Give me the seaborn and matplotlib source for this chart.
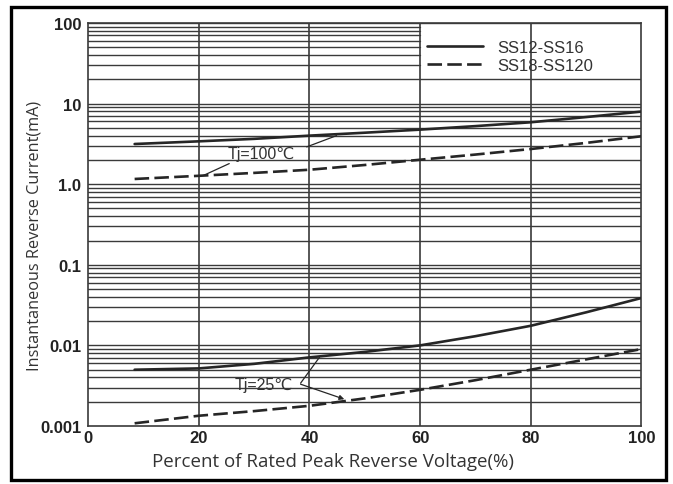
import numpy as np
import pandas as pd
import matplotlib
matplotlib.use("Agg")
import matplotlib.pyplot as plt
import matplotlib.patches as mpatches
import seaborn as sns

# Percent of rated peak reverse voltage (x) and reverse current in mA (y)
pct = [8.4, 20, 30, 40, 50, 60, 70, 80, 90, 100]

ss12_100c = [3.15, 3.4, 3.65, 4.0, 4.35, 4.75, 5.25, 5.86, 6.8, 7.95]
ss18_100c = [1.16, 1.27, 1.38, 1.51, 1.73, 2.01, 2.33, 2.73, 3.25, 3.93]
ss12_25c = [0.00499, 0.00518, 0.0059, 0.0071, 0.0083, 0.0100, 0.0130, 0.0175, 0.0257, 0.0387]
ss18_25c = [0.00108, 0.00134, 0.00153, 0.00178, 0.0022, 0.00281, 0.0037, 0.00499, 0.0067, 0.0090]

series_names = ["SS12-SS16", "SS18-SS120"]
x_ticks = [0, 20, 40, 60, 80, 100]
y_ticks = [0.001, 0.01, 0.1, 1.0, 10, 100]
y_tick_labels = ["0.001", "0.01", "0.1", "1.0", "10", "100"]

df = pd.DataFrame({
    "pct": pct * 4,
    "current": ss12_100c + ss18_100c + ss12_25c + ss18_25c,
    "series": [series_names[0]] * 10 + [series_names[1]] * 10
              + [series_names[0]] * 10 + [series_names[1]] * 10,
    "temp": ["100C"] * 20 + ["25C"] * 20,
})

sns.set_theme(style="white")
plt.rcParams["font.family"] = ["Liberation Sans", "DejaVu Sans"]

fig = plt.figure(figsize=(6.73, 4.85), dpi=100)
ax = fig.add_axes([0.131, 0.1196, 0.822, 0.831])

grid_color = "#3a3a3a"
line_color = "#262626"
text_color = "#333333"

ax.set_yscale("log")
ax.set_xlim(0, 100)
ax.set_ylim(0.001, 100)

# horizontal grid: every 1..9 step of each decade
for dec in range(-3, 2):
    for m in range(1, 10):
        v = m * 10.0 ** dec
        if v <= 0.001:
            continue
        # the legend region blanks the upper-right lines
        xmax = 0.6 if v > 20 else 1.0
        ax.axhline(v, xmin=0, xmax=xmax, color=grid_color, lw=1.0, zorder=1)
ax.axhline(100, color=grid_color, lw=1.0, zorder=1)
for xv in x_ticks[1:-1]:
    ax.axvline(xv, color=grid_color, lw=1.2, zorder=1)

styles = {series_names[0]: "-", series_names[1]: (0, (5.5, 2.0))}
for (name, temp), sub in df.groupby(["series", "temp"], sort=False):
    sns.lineplot(data=sub, x="pct", y="current", ax=ax, color=line_color,
                 lw=1.9, linestyle=styles[name], estimator=None,
                 label=name if temp == "100C" else None, zorder=3)

leg = ax.legend(loc="upper left", bbox_to_anchor=(0.585, 0.995), frameon=False,
                fontsize=12, handlelength=3.4, handletextpad=0.8,
                labelspacing=0.2)
for t in leg.get_texts():
    t.set_color(text_color)

# annotations
ax.text(25.2, 2.37, "Tj=100\u2103", fontsize=11.5, color=text_color, va="center",
        family=["Liberation Sans", "DejaVu Sans"])
ax.plot([39.5, 44.9], [2.9, 4.0], color=line_color, lw=0.9, zorder=3)
ax.plot([25.5, 20.8], [1.8, 1.28], color=line_color, lw=0.9, zorder=3)

ax.text(26.5, 0.0033, "Tj=25\u2103", fontsize=11.5, color=text_color, va="center",
        family=["Liberation Sans", "DejaVu Sans"])
ax.plot([38.4, 41.8], [0.0034, 0.0071], color=line_color, lw=0.9, zorder=3)
ax.annotate("", xy=(46.3, 0.00215), xytext=(38.4, 0.0033),
            arrowprops=dict(arrowstyle="-|>", color=line_color, lw=0.9,
                            mutation_scale=7, shrinkA=0, shrinkB=0), zorder=3)

ax.set_xticks(x_ticks)
ax.set_xticklabels([str(v) for v in x_ticks])
ax.set_yticks(y_ticks)
ax.set_yticklabels(y_tick_labels)
ax.yaxis.set_minor_locator(matplotlib.ticker.NullLocator())
ax.tick_params(axis="both", length=0, labelsize=12, colors="#222222")
ax.tick_params(axis="y", pad=5)
ax.tick_params(axis="x", pad=3)
for lbl in ax.get_xticklabels() + ax.get_yticklabels():
    lbl.set_fontweight("bold")

ax.set_xlabel("Percent of Rated Peak Reverse Voltage(%)", fontsize=13.5,
              color=text_color, family="Open Sans")
ax.set_ylabel("Instantaneous Reverse Current(mA)", fontsize=11.7,
              color=text_color, family="Open Sans")
ax.xaxis.set_label_coords(0.443, -0.065)
ax.yaxis.set_label_coords(-0.083, 0.473)

for s in ax.spines.values():
    s.set_visible(True)
    s.set_color(grid_color)
    s.set_linewidth(1.2)

# outer frame around the whole picture
fig.patches.append(mpatches.Rectangle((0.017, 0.008), 0.972, 0.975,
                                      transform=fig.transFigure, fill=False,
                                      edgecolor="black", lw=2.4))

fig.savefig("out.png", dpi=100)
